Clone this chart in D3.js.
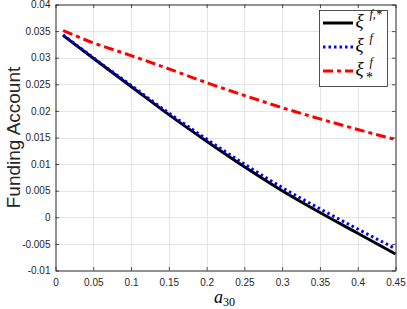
<!DOCTYPE html>
<html>
<head>
<meta charset="utf-8">
<script src="https://d3js.org/d3.v7.min.js"></script>
<style>
  body { margin: 0; background: #fff; }
  svg { display: block; }
</style>
</head>
<body>
<svg id="chart" width="407" height="309"></svg>
<script>
// values
const a30 = [0.01, 0.05, 0.1, 0.15, 0.2, 0.25, 0.3, 0.35, 0.4, 0.45]
const xiFStar = [0.0342, 0.0299, 0.0246, 0.0193, 0.0143, 0.0095, 0.0050, 0.0009, -0.0030, -0.0069]
const xiF = [0.0343, 0.0300, 0.0248, 0.0196, 0.0147, 0.0100, 0.0056, 0.0016, -0.0022, -0.0059]
const xiStar = [0.0351, 0.0328, 0.0304, 0.0279, 0.0253, 0.0229, 0.0206, 0.0185, 0.0165, 0.0146]
const xTicks = [0, 0.05, 0.1, 0.15, 0.2, 0.25, 0.3, 0.35, 0.4, 0.45]
const yTicks = [-0.01, -0.005, 0, 0.005, 0.01, 0.015, 0.02, 0.025, 0.03, 0.035, 0.04]

const series = [
    { name: 'fstar', values: xiFStar, color: '#000000', dash: null, width: 3 },
    { name: 'f', values: xiF, color: '#0000ff', dash: '2.5,3', width: 3 },
    { name: 'star', values: xiStar, color: '#ff0000', dash: '10,4,4,4', width: 3 }
]

const svg = d3.select('#chart')
const plotL = 55.5, plotR = 395.5, plotT = 4.5, plotB = 270.5
const axisColor = '#262626'
const fmt = d => String(+d.toFixed(3))

const x = d3.scaleLinear().domain([0, 0.45]).range([plotL, plotR])
const y = d3.scaleLinear().domain([-0.01, 0.04]).range([plotB, plotT])

// grid
const grid = svg.append('g').attr('stroke', '#e5e5e5').attr('stroke-width', 1)
grid.selectAll('.gx').data(xTicks.slice(1, -1)).join('line')
    .attr('x1', d => Math.round(x(d)) + 0.5).attr('x2', d => Math.round(x(d)) + 0.5)
    .attr('y1', plotT).attr('y2', plotB)
grid.selectAll('.gy').data(yTicks.slice(1, -1)).join('line')
    .attr('y1', d => Math.round(y(d)) + 0.5).attr('y2', d => Math.round(y(d)) + 0.5)
    .attr('x1', plotL).attr('x2', plotR)

// lines
const line = d3.line().x((d, i) => x(a30[i])).y(d => y(d)).curve(d3.curveMonotoneX)
svg.append('g').selectAll('path').data(series).join('path')
    .attr('d', d => line(d.values))
    .attr('fill', 'none')
    .attr('stroke', d => d.color)
    .attr('stroke-width', d => d.width)
    .attr('stroke-dasharray', d => d.dash)

// axes (box with inward ticks)
const tickLen = 3.5
const xAxisB = d3.axisBottom(x).tickValues(xTicks).tickFormat(fmt).tickSizeInner(-tickLen).tickSizeOuter(0).tickPadding(8)
const xAxisT = d3.axisTop(x).tickValues(xTicks).tickFormat('').tickSizeInner(-tickLen).tickSizeOuter(0)
const yAxisL = d3.axisLeft(y).tickValues(yTicks).tickFormat(fmt).tickSizeInner(-tickLen).tickSizeOuter(0).tickPadding(5)
const yAxisR = d3.axisRight(y).tickValues(yTicks).tickFormat('').tickSizeInner(-tickLen).tickSizeOuter(0)

const axes = [
    [xAxisB, `translate(0,${plotB})`],
    [xAxisT, `translate(0,${plotT})`],
    [yAxisL, `translate(${plotL},0)`],
    [yAxisR, `translate(${plotR},0)`]
]
axes.forEach(([ax, tr]) => {
    const g = svg.append('g').attr('transform', tr).call(ax)
    g.select('.domain').attr('stroke', axisColor).attr('stroke-width', 1)
    g.selectAll('.tick line').attr('stroke', axisColor).attr('stroke-width', 0.8)
    g.selectAll('text').attr('fill', axisColor)
        .style('font-family', '"Liberation Sans", Arial, sans-serif').style('font-size', '10px')
})

// axis titles
svg.append('text')
    .attr('transform', `translate(13,${(plotT + plotB) / 2}) rotate(-90)`)
    .attr('text-anchor', 'middle').attr('dy', '0.35em')
    .attr('fill', axisColor)
    .style('font-family', '"Liberation Sans", Arial, sans-serif').style('font-size', '19px')
    .text('Funding Account')

const xl = svg.append('text')
    .attr('x', 214).attr('y', 303)
    .attr('fill', '#000')
    .style('font-family', '"Liberation Serif", "DejaVu Serif", serif').style('font-size', '18px')
xl.append('tspan').style('font-style', 'italic').text('a')
xl.append('tspan').attr('dy', 3).style('font-size', '12px').text('30')

// legend
const legend = svg.append('g')
legend.append('rect')
    .attr('x', 319.5).attr('y', 10.5).attr('width', 68).attr('height', 76)
    .attr('fill', '#fff').attr('stroke', axisColor).attr('stroke-width', 0.8)

const labels = [
    { sup: 'f,*', sub: '' },
    { sup: 'f', sub: '' },
    { sup: 'f', sub: '*' }
]
const rowY = [23, 47, 71]
const serif = '"Liberation Serif", "DejaVu Serif", serif'
series.forEach((s, i) => {
    legend.append('line')
        .attr('x1', 323).attr('x2', 353).attr('y1', rowY[i]).attr('y2', rowY[i])
        .attr('stroke', s.color).attr('stroke-width', s.width).attr('stroke-dasharray', s.dash)
    legend.append('text')
        .attr('x', 355.5).attr('y', rowY[i] + 4)
        .attr('fill', '#000')
        .style('font-family', serif).style('font-size', '19px').style('font-style', 'italic')
        .text('ξ')
    legend.append('text')
        .attr('x', 369.5).attr('y', rowY[i] - 5)
        .attr('fill', '#000')
        .style('font-family', serif).style('font-size', '12px').style('font-style', 'italic')
        .text(labels[i].sup)
    if (labels[i].sub) {
        legend.append('text')
            .attr('x', 366).attr('y', rowY[i] + 11)
            .attr('fill', '#000')
            .style('font-family', serif).style('font-size', '14px')
            .text(labels[i].sub)
    }
})
</script>
</body>
</html>
